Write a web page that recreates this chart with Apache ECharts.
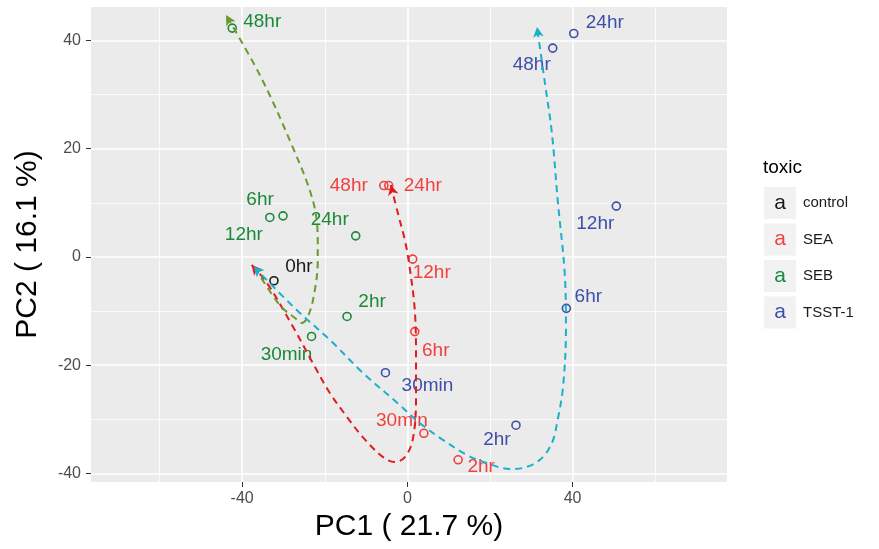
<!DOCTYPE html>
<html><head><meta charset="utf-8">
<script src="https://cdn.jsdelivr.net/npm/echarts@6/dist/echarts.min.js"></script>
<style>html,body{margin:0;padding:0;background:#fff}#c{width:879px;height:549px}</style>
</head><body><div id="c"></div>
<script>
// ---- data ----
const groups = ['control', 'SEA', 'SEB', 'TSST-1'];
const controlTimes = ['0hr'];
const controlPC1 = [-32.3];
const controlPC2 = [-4.4];
const seaTimes = ['30min', '2hr', '6hr', '12hr', '24hr', '48hr'];
const seaPC1 = [4.0, 12.3, 1.8, 1.3, -4.5, -5.7];
const seaPC2 = [-32.6, -37.5, -13.8, -0.4, 13.2, 13.2];
const sebTimes = ['30min', '2hr', '6hr', '12hr', '24hr', '48hr'];
const sebPC1 = [-23.2, -14.6, -30.1, -33.3, -12.5, -42.4];
const sebPC2 = [-14.7, -11.0, 7.6, 7.3, 3.9, 42.3];
const tsstTimes = ['30min', '2hr', '6hr', '12hr', '24hr', '48hr'];
const tsstPC1 = [-5.3, 26.3, 38.5, 50.6, 40.3, 35.2];
const tsstPC2 = [-21.4, -31.1, -9.5, 9.4, 41.3, 38.6];
// trajectory paths (PC1, PC2)
const seaPath = [[-37.7,-1.5],[-34.0,-4.8],[-27.7,-12.9],[-22.9,-19.6],[-18.8,-25.1],[-14.6,-29.6],[-10.8,-33.3],[-5.9,-37.0],[-3.0,-37.9],[-0.6,-37.0],[1.3,-33.8],[2.1,-26.4],[2.1,-19.0],[1.8,-9.8],[0.4,-1.1],[-0.6,3.1],[-2.3,8.1],[-4.0,13.3]];
const sebPath = [[-36.9,-2.0],[-30.9,-8.9],[-27.2,-11.3],[-25.5,-12.2],[-23.8,-10.5],[-22.4,-6.1],[-21.7,-0.9],[-21.7,3.1],[-22.9,10.5],[-28.5,21.6],[-35.7,33.6],[-43.9,44.7]];
const tsstPath = [[-37.2,-1.8],[-26.8,-9.8],[-18.8,-15.3],[-10.8,-21.4],[-1.8,-27.4],[3.0,-30.7],[8.6,-33.8],[14.4,-36.6],[19.2,-38.1],[24.8,-39.2],[28.0,-39.0],[32.1,-37.5],[35.0,-34.4],[36.4,-30.1],[37.7,-24.0],[38.4,-13.5],[38.1,-3.0],[36.4,10.5],[35.0,22.9],[33.3,32.2],[31.4,42.5]];
const xMajorTicks = [-40, 0, 40];
const xMinorTicks = [-60, -20, 20, 60];
const yMajorTicks = [-40, -20, 0, 20, 40];
const yMinorTicks = [-30, -10, 10, 30];

// ---- styles ----
const FONT = '"Liberation Sans", Arial, Helvetica, sans-serif';
const pointColors = ['#1a1a1a', '#f23f3f', '#1a8a3a', '#3e4fa8'];
const pathColors = { sea: '#e41a1c', seb: '#6a9a2e', tsst: '#1ab0cc' };
// label offsets in px (dx, dy) relative to point centre
const controlOff = [[25, -14]];
const seaOff = [[-22, -13], [23, 7], [21, 19], [19, 14], [34, 0], [-35, 0]];
const sebOff = [[-25, 18], [25, -15], [-23, -16], [-26, 17], [-26, -16], [30, -6]];
const tsstOff = [[42, 13], [-19, 15], [22, -12], [-21, 18], [31, -11], [-21, 17]];

function pts(times, xs, ys, offs) {
  return times.map((t, i) => ({
    name: t, value: [xs[i], ys[i]],
    label: { offset: offs[i] }
  }));
}
function scatter(name, data, color) {
  return {
    type: 'scatter', name: name, data: data, z: 2,
    symbol: 'circle', symbolSize: 8,
    itemStyle: { color: 'rgba(0,0,0,0)', borderColor: color, borderWidth: 1.6, opacity: 1 },
    label: { show: true, position: 'inside', formatter: '{b}', color: color, fontSize: 19, fontFamily: FONT },
    emphasis: { disabled: true }
  };
}
function pathSeries(path, color, arrowStart, rots) {
  const n = path.length;
  const data = path.map((p, i) => {
    const item = { value: p, symbol: 'none' };
    if (i === n - 1) { item.symbol = 'arrow'; item.symbolRotate = rots ? rots[1] : 0; }
    if (i === 0 && arrowStart) { item.symbol = 'arrow'; item.symbolRotate = rots ? rots[0] : 0; }
    return item;
  });
  return {
    type: 'line', data: data, smooth: 0.35, z: 3,
    showSymbol: true, symbolSize: [8, 10], symbolKeepAspect: true,
    lineStyle: { color: color, width: 2, type: [7, 5] },
    itemStyle: { color: color },
    emphasis: { disabled: true }, silent: true
  };
}

const legendGraphics = [];
legendGraphics.push({ type: 'text', left: 763, top: 158, style: { text: 'toxic', font: '19px ' + FONT, fill: '#000' } });
groups.forEach((g, i) => {
  const cy = 203 + i * 36.5;
  legendGraphics.push({ type: 'rect', shape: { x: 764, y: cy - 16, width: 32, height: 32 }, style: { fill: '#f2f2f2' } });
  legendGraphics.push({ type: 'text', x: 780, y: cy, style: { text: 'a', font: '21px ' + FONT, fill: pointColors[i], align: 'center', verticalAlign: 'middle' } });
  legendGraphics.push({ type: 'text', x: 803, y: cy, style: { text: g, font: '15px ' + FONT, fill: '#1a1a1a', align: 'left', verticalAlign: 'middle' } });
});

function buildOption(rot) {
  rot = rot || {};
  return {
    animation: false,
    backgroundColor: '#fff',
    grid: { left: 91, right: 152, top: 7, bottom: 67, show: true, backgroundColor: '#ebebeb', borderWidth: 0, containLabel: false },
    xAxis: [{
      type: 'value', min: -76.6, max: 77.4,
      axisLine: { show: false, onZero: false },
      axisTick: { show: true, customValues: xMajorTicks, length: 5, lineStyle: { color: '#333', width: 1 } },
      axisLabel: { customValues: xMajorTicks, color: '#4d4d4d', fontSize: 16, fontFamily: FONT, margin: 9 },
      splitLine: { show: true, lineStyle: { color: '#fff', width: 1.6 } },
      name: 'PC1 ( 21.7 %)', nameLocation: 'middle', nameGap: 29,
      nameTextStyle: { fontSize: 30, color: '#000', fontFamily: FONT }
    }, {
      type: 'value', min: -76.6, max: 77.4, position: 'bottom',
      axisLine: { show: false, onZero: false }, axisLabel: { show: false },
      axisTick: { show: false, customValues: xMinorTicks },
      splitLine: { show: true, lineStyle: { color: '#fff', width: 0.8 } }
    }],
    yAxis: [{
      type: 'value', min: -41.6, max: 46.2,
      axisLine: { show: false, onZero: false },
      axisTick: { show: true, customValues: yMajorTicks, length: 5, lineStyle: { color: '#333', width: 1 } },
      axisLabel: { customValues: yMajorTicks, color: '#4d4d4d', fontSize: 16, fontFamily: FONT, margin: 10 },
      splitLine: { show: true, lineStyle: { color: '#fff', width: 1.6 } },
      name: 'PC2 ( 16.1 %)', nameLocation: 'middle', nameGap: 48,
      nameTextStyle: { fontSize: 30, color: '#000', fontFamily: FONT }
    }, {
      type: 'value', min: -41.6, max: 46.2, position: 'left',
      axisLine: { show: false, onZero: false }, axisLabel: { show: false },
      axisTick: { show: false, customValues: yMinorTicks },
      splitLine: { show: true, lineStyle: { color: '#fff', width: 0.8 } }
    }],
    graphic: legendGraphics,
    series: [
      scatter('control', pts(controlTimes, controlPC1, controlPC2, controlOff), pointColors[0]),
      scatter('SEA', pts(seaTimes, seaPC1, seaPC2, seaOff), pointColors[1]),
      scatter('SEB', pts(sebTimes, sebPC1, sebPC2, sebOff), pointColors[2]),
      scatter('TSST-1', pts(tsstTimes, tsstPC1, tsstPC2, tsstOff), pointColors[3]),
      pathSeries(seaPath, pathColors.sea, true, rot.sea),
      pathSeries(sebPath, pathColors.seb, false, rot.seb),
      pathSeries(tsstPath, pathColors.tsst, true, rot.tsst)
    ]
  };
}

const chart = echarts.init(document.getElementById('c'), null, { renderer: 'canvas' });
chart.setOption(buildOption());
function angle(from, to) {
  const a = chart.convertToPixel({ gridIndex: 0 }, from);
  const b = chart.convertToPixel({ gridIndex: 0 }, to);
  const dx = b[0] - a[0], dy = b[1] - a[1];
  return Math.atan2(-dx, -dy) * 180 / Math.PI;
}
function rots(path) {
  const n = path.length;
  return [angle(path[1], path[0]), angle(path[n - 2], path[n - 1])];
}
chart.setOption(buildOption({ sea: rots(seaPath), seb: rots(sebPath), tsst: rots(tsstPath) }), true);
</script></body></html>
